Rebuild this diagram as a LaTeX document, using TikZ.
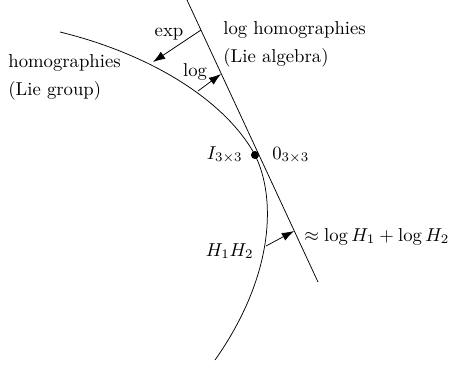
\documentclass[tikz,border=0pt]{standalone}
\usetikzlibrary{arrows.meta}
\begin{document}
\begin{tikzpicture}[x=0.535pt,y=-0.535pt,
  arr/.style={-{Latex[length=6.5pt,width=4.5pt]}},
  lbl/.style={inner sep=0pt}]
\useasboundingbox (0,0) rectangle (449,368);
% Lie group curve
\coordinate (cstart) at (60,32);
\coordinate (cend) at (215,360);
\node[circle,fill,inner sep=0pt,minimum size=4.3pt] (id) at (255,155) {};
\draw (cstart) .. controls (150,54) and (225,100) .. (id.center)
  .. controls (276,197) and (275,275) .. (cend);
% tangent line (Lie algebra)
\coordinate (ltop) at (187,0);
\coordinate (lbot) at (318,282);
\draw (ltop) -- (lbot);
% arrow end points
\coordinate (expS) at (201,30);
\coordinate (expE) at (153,62);
\coordinate (logS) at (198,91);
\coordinate (logE) at (221,74);
\coordinate (hS) at (266,246);
\coordinate (hE) at (294,231);
\draw[arr] (expS) -- (expE);
\draw[arr] (logS) -- (logE);
\draw[arr] (hS) -- (hE);
% labels
\node[lbl,anchor=base] (exp) at (169,36) {exp};
\node[lbl,anchor=base] (log) at (195,76) {log};
\node[lbl,anchor=base west] (lh) at (223,34) {log homographies};
\node[lbl,anchor=base west] (la) at (223,62) {(Lie algebra)};
\node[lbl,anchor=base west] (hg) at (8,67) {homographies};
\node[lbl,anchor=base west] (lg) at (8,95) {(Lie group)};
\node[lbl,anchor=base east] (I) at (243,159) {$I_{3\times3}$};
\node[lbl,anchor=base west] (Z) at (272,159) {$0_{3\times3}$};
\node[lbl,anchor=base east] (HH) at (254,256) {$H_1H_2$};
\node[lbl,anchor=base west] (ap) at (304,241) {$\approx\log H_1+\log H_2$};
\end{tikzpicture}
\end{document}
